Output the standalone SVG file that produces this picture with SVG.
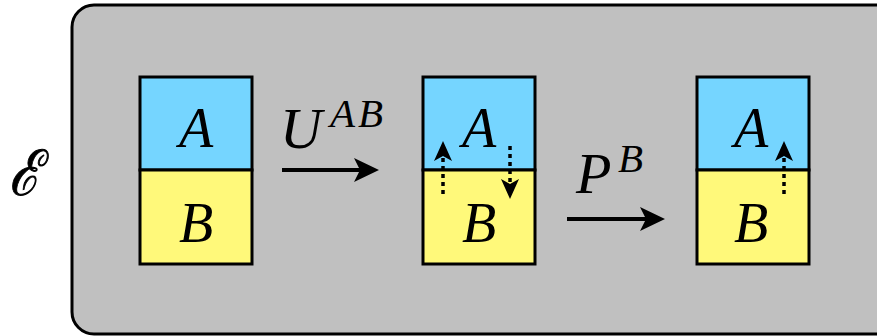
<svg xmlns="http://www.w3.org/2000/svg" width="877" height="336" viewBox="0 0 877 336">
<style>
text{font-family:'Liberation Serif','Times New Roman',serif;font-style:italic;fill:#000}
.big{font-size:56px}
.sub{font-size:58px}
.sup{font-size:41px}
.a{fill:#75d5ff;stroke:#000;stroke-width:3}
.b{fill:#fff97a;stroke:#000;stroke-width:3}
.arr{stroke:#000;stroke-width:4;fill:none}
.dot{stroke:#000;stroke-width:3.5;stroke-dasharray:4 4;fill:none}
.hd{fill:#000}
</style>
<g id="env">
<rect x="72" y="5" width="830" height="329" rx="22" fill="#c0c0c0" stroke="#000" stroke-width="3"/>
<text transform="translate(9,195) scale(0.82,1)" font-size="63" stroke="#000" stroke-width="1">ℰ</text>
</g>
<g id="state1">
<rect class="a" x="140" y="77" width="112" height="93"/>
<rect class="b" x="140" y="170" width="112" height="94"/>
<text class="big" x="196" y="147" text-anchor="middle">A</text>
<text class="big" x="196" y="242" text-anchor="middle">B</text>
</g>
<g id="state2">
<rect class="a" x="423" y="77" width="112" height="93"/>
<rect class="b" x="423" y="170" width="112" height="94"/>
<text class="big" x="479" y="147" text-anchor="middle">A</text>
<text class="big" x="479" y="242" text-anchor="middle">B</text>
</g>
<g id="state3">
<rect class="a" x="697" y="77" width="112" height="93"/>
<rect class="b" x="697" y="170" width="112" height="94"/>
<text class="big" x="751" y="147" text-anchor="middle">A</text>
<text class="big" x="751" y="242" text-anchor="middle">B</text>
</g>
<g id="connectors">
<line class="arr" x1="282" y1="170" x2="360" y2="170"/>
<path class="hd" d="M379,170 L354,158 L360,170 L354,182 Z"/>
<text class="sub" x="280" y="148">U</text>
<text class="sup" x="330" y="127" letter-spacing="3">AB</text>
<line class="arr" x1="567" y1="219" x2="646" y2="219"/>
<path class="hd" d="M665,219 L640,207 L646,219 L640,231 Z"/>
<text class="sub" x="576" y="193">P</text>
<text class="sup" x="618" y="172">B</text>
<line class="dot" x1="443" y1="194" x2="443" y2="155"/>
<path class="hd" d="M443,141 L434,161 L443,156 L452,161 Z"/>
<line class="dot" x1="510" y1="146" x2="510" y2="184"/>
<path class="hd" d="M510,199 L501,179 L510,184 L519,179 Z"/>
<line class="dot" x1="784" y1="194" x2="784" y2="155"/>
<path class="hd" d="M784,141 L775,161 L784,156 L793,161 Z"/>
</g>
</svg>
